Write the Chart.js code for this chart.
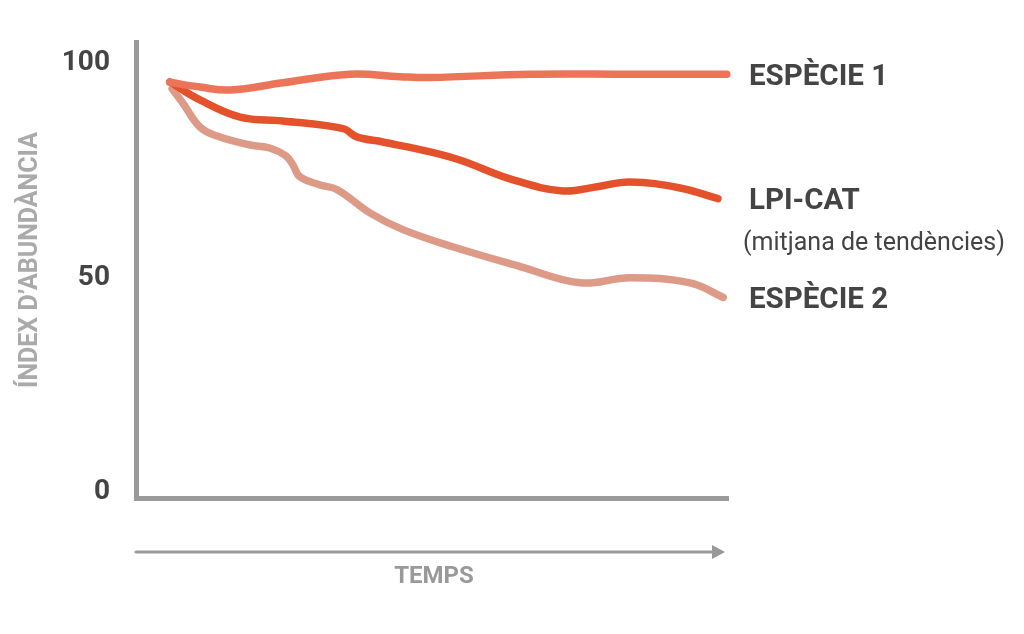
<!DOCTYPE html>
<html lang="ca">
<head>
  <meta charset="UTF-8">
  <title>Índex d'abundància</title>
  <script src="https://cdn.jsdelivr.net/npm/chart.js"></script>
  <style>
    html, body { margin: 0; padding: 0; background: #fff; }
    #wrap { width: 1024px; height: 634px; }
  </style>
</head>
<body>
<div id="wrap">
  <canvas id="grafic" width="1024" height="634"></canvas>
</div>

<script>
  // temps (0-100, unitats arbitràries) i índex per a cada sèrie
  const tempsEsp1 = [5.7, 10.8, 15.9, 24.8, 36.1, 44.6, 49.7, 66.6, 83.4, 99.8];
  const valorsEsp1 = [94.8, 93.7, 93.0, 94.7, 96.7, 96.1, 95.9, 96.7, 96.7, 96.7];

  const tempsLpi = [5.7, 10.8, 17.6, 24.8, 35.0, 37.3, 41.7, 49.7, 54.7, 63.7, 72.1, 77.9, 83.4, 91.9, 98.3];
  const valorsLpi = [94.9, 90.7, 86.7, 85.8, 84.0, 82.1, 80.9, 78.6, 76.7, 72.1, 69.5, 70.5, 71.6, 70.2, 67.7];

  const tempsEsp2 = [6.1, 7.9, 10.8, 13.7, 19.3, 22.6, 25.3, 26.5, 27.7, 31.1, 34.0, 39.5, 45.1, 53.5, 64.9, 75.0, 83.4, 93.6, 99.2];
  const valorsEsp2 = [93.3, 90.0, 84.4, 82.3, 80.2, 79.5, 77.7, 75.6, 72.8, 70.9, 69.8, 64.4, 60.5, 56.5, 51.9, 48.1, 49.3, 48.1, 44.7];

  const ticksY = [0, 50, 100];

  const punts = (xs, ys) => xs.map((x, i) => ({ x: x, y: ys[i] }));

  Chart.defaults.font.family = "Roboto";

  const etiquetes = {
    id: "etiquetes",
    afterDraw(chart) {
      const ctx = chart.ctx;
      const area = chart.chartArea;
      const y = chart.scales.y;
      const xEtiq = area.right + 21;

      ctx.save();
      ctx.textBaseline = "middle";
      ctx.textAlign = "left";

      // noms de les sèries a la dreta
      ctx.fillStyle = "#444444";
      ctx.font = "bold 29.5px Roboto";
      ctx.fillText("ESPÈCIE 1", xEtiq, y.getPixelForValue(valorsEsp1[valorsEsp1.length - 1]) + 3);
      ctx.fillText("LPI-CAT", xEtiq, y.getPixelForValue(valorsLpi[valorsLpi.length - 1]) + 3);
      ctx.fillText("ESPÈCIE 2", xEtiq, y.getPixelForValue(valorsEsp2[valorsEsp2.length - 1]) + 3);
      ctx.font = "25px Roboto";
      ctx.fillText("(mitjana de tendències)", xEtiq - 6, y.getPixelForValue(valorsLpi[valorsLpi.length - 1]) + 45);

      // títol de l'eix y
      ctx.save();
      ctx.translate(31, 260);
      ctx.rotate(-Math.PI / 2);
      ctx.textAlign = "center";
      ctx.fillStyle = "#aaaaaa";
      ctx.font = "bold 25px Roboto";
      ctx.fillText("ÍNDEX D’ABUNDÀNCIA", 0, 0);
      ctx.restore();

      // fletxa del temps
      const yFletxa = area.bottom + 54;
      ctx.strokeStyle = "#999999";
      ctx.fillStyle = "#999999";
      ctx.lineWidth = 3;
      ctx.lineCap = "round";
      ctx.beginPath();
      ctx.moveTo(area.left, yFletxa);
      ctx.lineTo(area.right - 14, yFletxa);
      ctx.stroke();
      ctx.beginPath();
      ctx.moveTo(area.right - 16, yFletxa - 7);
      ctx.lineTo(area.right - 3, yFletxa);
      ctx.lineTo(area.right - 16, yFletxa + 7);
      ctx.closePath();
      ctx.fill();

      ctx.textAlign = "center";
      ctx.font = "bold 24px Roboto";
      ctx.fillText("TEMPS", 434, yFletxa + 25);
      ctx.restore();
    }
  };

  const estilLinia = (color) => ({
    borderColor: color,
    backgroundColor: color,
    borderWidth: 7.5,
    borderCapStyle: "round",
    borderJoinStyle: "round",
    pointRadius: 0,
    tension: 0.4,
    clip: false
  });

  new Chart(document.getElementById("grafic"), {
    type: "line",
    data: {
      datasets: [
        Object.assign({ label: "ESPÈCIE 1", data: punts(tempsEsp1, valorsEsp1), order: 0 }, estilLinia("#ec7559")),
        Object.assign({ label: "LPI-CAT", data: punts(tempsLpi, valorsLpi), order: 1 }, estilLinia("#e4522b")),
        Object.assign({ label: "ESPÈCIE 2", data: punts(tempsEsp2, valorsEsp2), order: 2 }, estilLinia("#dd9a87"))
      ]
    },
    options: {
      responsive: false,
      animation: false,
      layout: { padding: { top: 42, right: 296, left: 0, bottom: 0 } },
      plugins: {
        legend: { display: false },
        tooltip: { enabled: false }
      },
      scales: {
        x: {
          type: "linear",
          min: 0,
          max: 100,
          grid: { display: false, drawTicks: false },
          border: { display: true, color: "#9a9a9a", width: 5 },
          ticks: { display: false },
          afterFit: scale => { scale.height = 136; }
        },
        y: {
          min: -2,
          max: 104,
          grid: { display: false, drawTicks: false },
          border: { display: true, color: "#9a9a9a", width: 5 },
          afterBuildTicks: scale => { scale.ticks = ticksY.map(v => ({ value: v })); },
          afterFit: scale => { scale.width = 136; },
          ticks: {
            padding: 26,
            labelOffset: 3,
            color: "#444444",
            font: { size: 28, weight: "bold" }
          }
        }
      }
    },
    plugins: [etiquetes]
  });
</script>
</body>
</html>
